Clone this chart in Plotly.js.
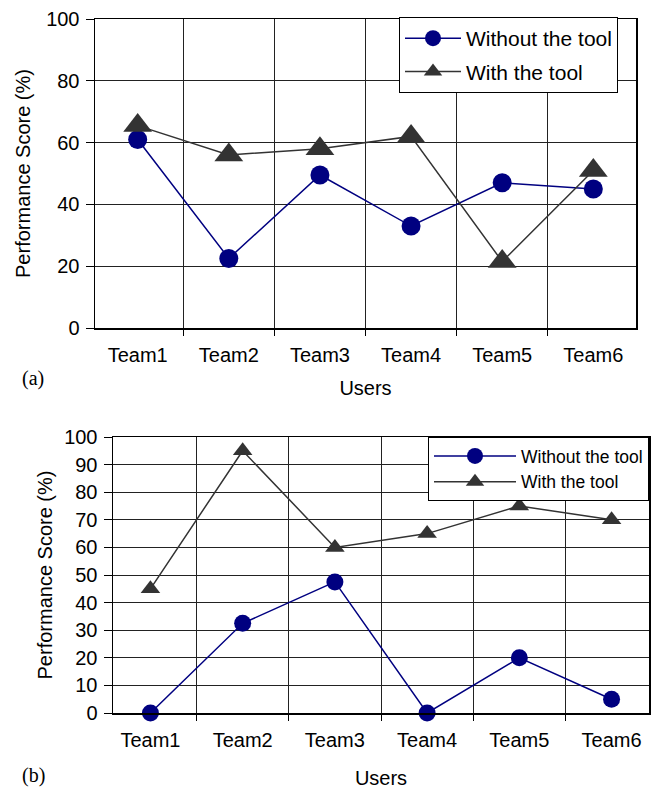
<!DOCTYPE html>
<html>
<head>
<meta charset="utf-8">
<script src="https://cdn.plot.ly/plotly-3.0.1.min.js"></script>
<style>html,body{margin:0;padding:0;background:#fff;}#chart{width:657px;height:789px;}</style>
</head>
<body>
<div id="chart"></div>
<script>
const categories = ["Team1", "Team2", "Team3", "Team4", "Team5", "Team6"];
const seriesNames = ["Without the tool", "With the tool"];
// Chart (a)
const withoutToolA = [61, 22.5, 49.5, 33, 47, 45];
const withToolA = [65.5, 56, 58, 62, 21.5, 51];
// Chart (b)
const withoutToolB = [0, 32.5, 47.5, 0, 20, 5];
const withToolB = [45, 95, 60, 65, 75, 70];
const yTicksA = [0, 20, 40, 60, 80, 100];
const yTicksB = [0, 10, 20, 30, 40, 50, 60, 70, 80, 90, 100];

const W = 657, H = 789;
const FONT = "Liberation Sans, Arial, sans-serif";
const BLUE = "#000080", DARK = "#333333";

const traces = [
  {x: categories, y: withoutToolA, name: seriesNames[0], type: "scatter", mode: "lines+markers",
   xaxis: "x", yaxis: "y", legend: "legend", legendgroup: "a1", cliponaxis: false,
   line: {color: BLUE, width: 1.5}, marker: {symbol: "circle", size: 19, color: BLUE}},
  {x: categories, y: withToolA, name: seriesNames[1], type: "scatter", mode: "lines+markers",
   xaxis: "x", yaxis: "y", legend: "legend", legendgroup: "a2", cliponaxis: false,
   line: {color: DARK, width: 1.5}, marker: {symbol: "triangle-up", size: 25, color: DARK}},
  {x: categories, y: withoutToolB, name: seriesNames[0], type: "scatter", mode: "lines+markers",
   xaxis: "x2", yaxis: "y2", legend: "legend2", legendgroup: "b1", cliponaxis: false,
   line: {color: BLUE, width: 1.5}, marker: {symbol: "circle", size: 17, color: BLUE}},
  {x: categories, y: withToolB, name: seriesNames[1], type: "scatter", mode: "lines+markers",
   xaxis: "x2", yaxis: "y2", legend: "legend2", legendgroup: "b2", cliponaxis: false,
   line: {color: DARK, width: 1.5}, marker: {symbol: "triangle-up", size: 17, color: DARK}}
];

function xAxis(domain, anchor, standoff) {
  return {
    domain: domain, anchor: anchor, type: "category", tickson: "boundaries",
    ticks: "outside", ticklen: 6, tickcolor: "#000", tickwidth: 1,
    showgrid: true, gridcolor: "#222", gridwidth: 1,
    showline: true, linecolor: "#000", linewidth: 1.5, mirror: true,
    tickfont: {family: FONT, size: 20, color: "#000"}, ticklabelstandoff: 8,
    title: {text: "Users", font: {family: FONT, size: 20, color: "#000"}, standoff: standoff},
    fixedrange: true, zeroline: false
  };
}
function yAxis(domain, anchor, ticks, standoff) {
  return {
    domain: domain, anchor: anchor, range: [0, 100], tickvals: ticks,
    ticks: "outside", ticklen: 8, tickcolor: "#000", tickwidth: 1,
    showgrid: true, gridcolor: "#222", gridwidth: 1,
    showline: true, linecolor: "#000", linewidth: 1.5, mirror: true, zeroline: false,
    tickfont: {family: FONT, size: 20, color: "#000"}, ticklabelstandoff: 2,
    title: {text: "Performance Score (%)", font: {family: FONT, size: 20, color: "#000"}, standoff: standoff},
    fixedrange: true
  };
}

const layout = {
  width: W, height: H,
  margin: {l: 0, r: 0, t: 0, b: 0},
  paper_bgcolor: "#fff", plot_bgcolor: "#fff",
  font: {family: FONT, color: "#000"},
  xaxis: xAxis([95 / W, 636 / W], "y", 16),
  yaxis: yAxis([1 - 328 / H, 1 - 19 / H], "x", yTicksA, 10),
  xaxis2: xAxis([113 / W, 649 / W], "y2", 22),
  yaxis2: yAxis([1 - 713 / H, 1 - 437 / H], "x2", yTicksB, 6),
  legend: {
    x: 399 / W, y: 1 - 17 / H, xanchor: "left", yanchor: "top",
    bgcolor: "#fff", bordercolor: "#000", borderwidth: 1,
    font: {family: FONT, size: 21, color: "#000"},
    itemwidth: 56, traceorder: "grouped", tracegroupgap: 3
  },
  legend2: {
    x: 649 / W, y: 1 - 437 / H, xanchor: "right", yanchor: "top",
    bgcolor: "#fff", bordercolor: "#000", borderwidth: 1,
    font: {family: FONT, size: 17.5, color: "#000"},
    itemwidth: 82, traceorder: "grouped", tracegroupgap: 0
  },
  showlegend: true,
  annotations: [
    {text: "(a)", xref: "paper", yref: "paper", x: 20 / W, y: 1 - 378 / H, xanchor: "left", yanchor: "middle",
     showarrow: false, font: {family: "Liberation Serif, Times New Roman, serif", size: 20, color: "#000"}},
    {text: "(b)", xref: "paper", yref: "paper", x: 20 / W, y: 1 - 775 / H, xanchor: "left", yanchor: "middle",
     showarrow: false, font: {family: "Liberation Serif, Times New Roman, serif", size: 20, color: "#000"}}
  ]
};

Plotly.newPlot("chart", traces, layout, {staticPlot: true, displayModeBar: false});
</script>
</body>
</html>
